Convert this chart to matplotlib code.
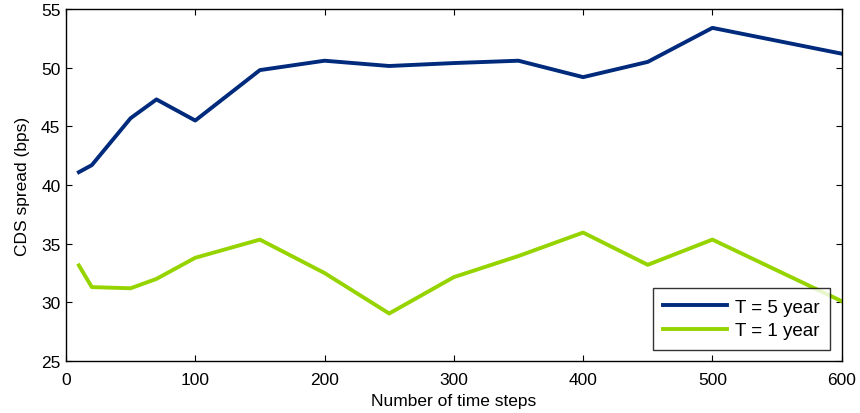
import matplotlib
matplotlib.use("Agg")
import matplotlib.pyplot as plt

plt.rcParams['font.family'] = ['Liberation Sans', 'DejaVu Sans']

# time steps and CDS spreads (bps)
steps = [10, 20, 50, 70, 100, 150, 200, 250, 300, 350, 400, 450, 500, 600]
spread_5y = [41.1, 41.7, 45.7, 47.3, 45.5, 49.8, 50.6, 50.15, 50.4, 50.6, 49.2, 50.5, 53.4, 51.2]
spread_1y = [33.15, 31.3, 31.2, 32.0, 33.8, 35.35, 32.5, 29.05, 32.15, 33.95, 35.95, 33.2, 35.35, 30.1]

fig = plt.figure(figsize=(8.6, 4.14), dpi=100)
ax = fig.add_axes([0.0767, 0.1256, 0.902, 0.850])

ax.plot(steps, spread_5y, color='#002a7c', lw=2.8, label='T = 5 year')
ax.plot(steps, spread_1y, color='#96d400', lw=2.8, label='T = 1 year')

ax.set_xlim(0, 600)
ax.set_ylim(25, 55)
ax.set_xticks(range(0, 601, 100))
ax.set_yticks(range(25, 56, 5))
ax.tick_params(direction='in', top=True, right=True, length=4, width=0.8,
               labelsize=12.5)
ax.tick_params(axis='x', pad=8)
ax.tick_params(axis='y', pad=4)
for s in ax.spines.values():
    s.set_linewidth(1.0)

ax.set_xlabel('Number of time steps', fontsize=12.5, labelpad=4)
ax.set_ylabel('CDS spread (bps)', fontsize=12.5, labelpad=8)

leg = ax.legend(loc='lower right', fontsize=13.5, frameon=True, fancybox=False,
                edgecolor='black', handlelength=3.4, borderaxespad=0.6,
                borderpad=0.55, labelspacing=0.35, handletextpad=0.45)
leg.get_frame().set_linewidth(1.0)

fig.savefig('out.png', dpi=100)
